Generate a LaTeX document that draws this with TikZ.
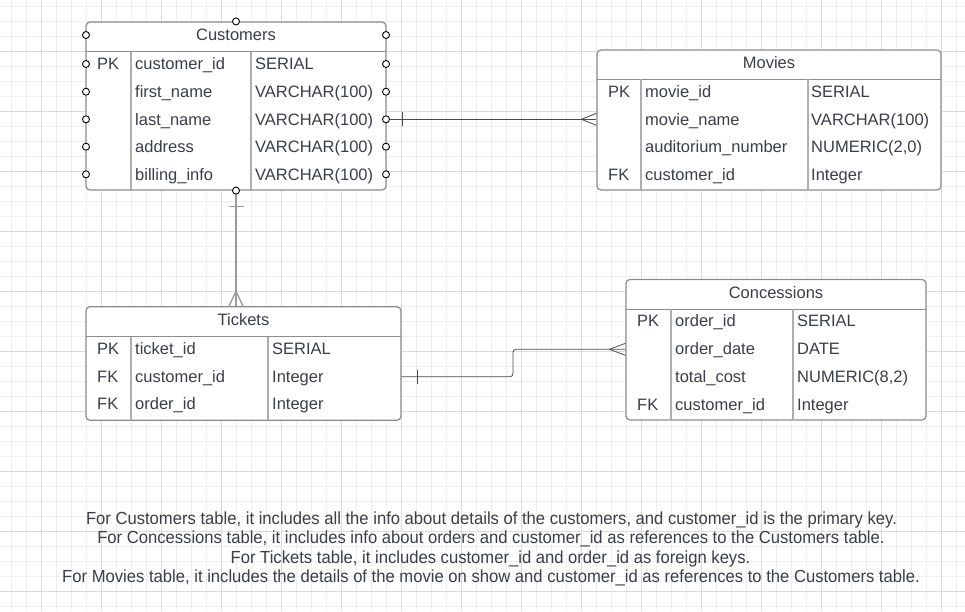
\documentclass[tikz,border=0pt]{standalone}
\usepackage{fontspec}
\setmainfont{Liberation Sans}
\newfontfamily\notefont[FakeStretch=0.95]{Liberation Sans}
\usetikzlibrary{calc}
\definecolor{gridminor}{HTML}{EFEFEF}
\definecolor{gridmajor}{HTML}{DCDCDC}
\definecolor{txt}{HTML}{3A3F47}
\definecolor{border}{HTML}{8C8C8C}
\definecolor{sep}{HTML}{AEAEAE}
\definecolor{conn}{HTML}{4A4A4A}
\definecolor{connlight}{HTML}{9A9A9A}
\begin{document}
\begin{tikzpicture}[x=1pt,y=-1pt,
  font=\fontsize{16.5}{19}\selectfont,
  tablebox/.style={draw=border, line width=1.2pt, fill=white, rounded corners=4pt, inner sep=0pt},
  hline/.style={draw=border, line width=1.3pt},
  colline/.style={draw=sep, line width=1.8pt},
  cell/.style={anchor=base west, inner sep=0pt, text=txt},
  title/.style={anchor=base, inner sep=0pt, text=txt},
  note/.style={anchor=base, inner sep=0pt, text=txt, font=\notefont\fontsize{17.5}{19}\selectfont},
  connector/.style={draw=conn, line width=0.8pt},
  connectorlight/.style={draw=connlight, line width=1.3pt},
  dot/.style={draw=black, fill=white, line width=0.9pt}]
\useasboundingbox (0,0) rectangle (965,611);
\fill[white] (0,0) rectangle (965,611);
% grid
\foreach \k in {0,...,63} {\draw[gridminor, line width=0.8pt] (11.7+15*\k,0) -- (11.7+15*\k,611);}
\foreach \k in {0,...,40} {\draw[gridminor, line width=0.8pt] (0,6.7+15*\k) -- (965,6.7+15*\k);}
\foreach \k in {0,...,15} {\draw[gridmajor, line width=0.8pt] (41.7+60*\k,0) -- (41.7+60*\k,611);}
\foreach \k in {0,...,9} {\draw[gridmajor, line width=0.8pt] (0,51.7+60*\k) -- (965,51.7+60*\k);}

% ---------- Customers ----------
\node[tablebox, minimum width=300pt, minimum height=168pt] (cust) at (236,106) {};
\draw[hline] (86,51.7) -- (386,51.7);
\draw[colline] (130.7,51.7) -- (130.7,190);
\draw[colline] (250.7,51.7) -- (250.7,190);
\coordinate (cr1) at (236,64);
\coordinate (cr2) at (236,91.7);
\coordinate (cr3) at (236,119.3);
\coordinate (cr4) at (236,146.7);
\coordinate (cr5) at (236,174.3);
\node[title] (custt) at (236,40.8) {Customers};
\node[cell] (c1k) at (97,69.8) {PK};
\node[cell] (c1n) at (135,69.8) {customer\_id};
\node[cell] (c1t) at (255,69.8) {SERIAL};
\node[cell] (c2n) at (135,97.5) {first\_name};
\node[cell] (c2t) at (255,97.5) {VARCHAR(100)};
\node[cell] (c3n) at (135,125.1) {last\_name};
\node[cell] (c3t) at (255,125.1) {VARCHAR(100)};
\node[cell] (c4n) at (135,152.5) {address};
\node[cell] (c4t) at (255,152.5) {VARCHAR(100)};
\node[cell] (c5n) at (135,180.1) {billing\_info};
\node[cell] (c5t) at (255,180.1) {VARCHAR(100)};

% ---------- Movies ----------
\node[tablebox, minimum width=344pt, minimum height=140pt] (mov) at (769,120) {};
\draw[hline] (597,79.2) -- (941,79.2);
\draw[colline] (641,79.2) -- (641,190);
\draw[colline] (808,79.2) -- (808,190);
\coordinate (mr1) at (769,91.7);
\coordinate (mr2) at (769,119.3);
\node[title] (movt) at (769,68.3) {Movies};
\node[cell] (m1k) at (608,97.5) {PK};
\node[cell] (m1n) at (645,97.5) {movie\_id};
\node[cell] (m1t) at (811,97.5) {SERIAL};
\node[cell] (m2n) at (645,125.3) {movie\_name};
\node[cell] (m2t) at (811,125.3) {VARCHAR(100)};
\node[cell] (m3n) at (645,152.9) {auditorium\_number};
\node[cell] (m3t) at (811,152.9) {NUMERIC(2,0)};
\node[cell] (m4k) at (608,180.6) {FK};
\node[cell] (m4n) at (645,180.6) {customer\_id};
\node[cell] (m4t) at (811,180.6) {Integer};

% ---------- Tickets ----------
\node[tablebox, minimum width=315pt, minimum height=113.5pt] (tix) at (243.5,363.5) {};
\draw[hline] (86,336.7) -- (401,336.7);
\draw[colline] (130.7,336.7) -- (130.7,420);
\draw[colline] (267.7,336.7) -- (267.7,420);
\coordinate (tr1) at (243.5,349);
\coordinate (tr2) at (243.5,376.7);
\node[title] (tixt) at (243.5,325.3) {Tickets};
\node[cell] (t1k) at (97,354.8) {PK};
\node[cell] (t1n) at (135,354.8) {ticket\_id};
\node[cell] (t1t) at (272,354.8) {SERIAL};
\node[cell] (t2k) at (97,382.5) {FK};
\node[cell] (t2n) at (135,382.5) {customer\_id};
\node[cell] (t2t) at (272,382.5) {Integer};
\node[cell] (t3k) at (97,409.8) {FK};
\node[cell] (t3n) at (135,409.8) {order\_id};
\node[cell] (t3t) at (272,409.8) {Integer};

% ---------- Concessions ----------
\node[tablebox, minimum width=300pt, minimum height=140.5pt] (conc) at (776,349.7) {};
\draw[hline] (626,309.3) -- (926,309.3);
\draw[colline] (670.7,309.3) -- (670.7,420);
\draw[colline] (792.8,309.3) -- (792.8,420);
\coordinate (kr2) at (776,349.3);
\node[title] (conct) at (776,298.3) {Concessions};
\node[cell] (k1k) at (637,326.5) {PK};
\node[cell] (k1n) at (675,326.5) {order\_id};
\node[cell] (k1t) at (797,326.5) {SERIAL};
\node[cell] (k2n) at (675,354.8) {order\_date};
\node[cell] (k2t) at (797,354.8) {DATE};
\node[cell] (k3n) at (675,382.5) {total\_cost};
\node[cell] (k3t) at (797,382.5) {NUMERIC(8,2)};
\node[cell] (k4k) at (637,410.1) {FK};
\node[cell] (k4n) at (675,410.1) {customer\_id};
\node[cell] (k4t) at (797,410.1) {Integer};

% ---------- Connectors ----------
% Customers -- Movies
\draw[connector] (cust.east |- cr3) -- (mov.west |- cr3);
\draw[connector] ($(cust.east |- cr3)+(15.5,-7)$) -- ++(0,14);
\draw[connector] ($(mov.west |- cr3)+(-15,0)$) -- ($(mov.west |- cr3)+(0,-6)$);
\draw[connector] ($(mov.west |- cr3)+(-15,0)$) -- ($(mov.west |- cr3)+(0,6)$);
% Customers -- Tickets
\draw[connectorlight] (cust.south) -- (cust.south |- tix.north);
\draw[connectorlight] ($(cust.south)+(-7.5,15.7)$) -- ++(15,0);
\draw[connectorlight] ($(cust.south |- tix.north)+(0,-15)$) -- ($(cust.south |- tix.north)+(-7,0)$);
\draw[connectorlight] ($(cust.south |- tix.north)+(0,-15)$) -- ($(cust.south |- tix.north)+(7,0)$);
% Tickets -- Concessions
\coordinate (bend) at (513,360);
\draw[connector, rounded corners=3pt] (tix.east |- tr2) -- (bend |- tr2) -- (bend |- kr2) -- (conc.west |- kr2);
\draw[connector] ($(tix.east |- tr2)+(15.3,-7)$) -- ++(0,14);
\draw[connector] ($(conc.west |- kr2)+(-16,0)$) -- ($(conc.west |- kr2)+(0,-6)$);
\draw[connector] ($(conc.west |- kr2)+(-16,0)$) -- ($(conc.west |- kr2)+(0,6)$);

% ---------- Customers connection points ----------
\draw[dot] (cust.north) circle (3.5pt);
\draw[dot] (cust.south) circle (3.5pt);
\foreach \yy in {35,64,91.7,119.3,146.7,174.3} {
  \draw[dot] (86,\yy) circle (3.5pt);
  \draw[dot] (386,\yy) circle (3.5pt);
}

% ---------- Notes ----------
\node[note] (n1) at (491.5,524) {For Customers table, it includes all the info about details of the customers, and customer\_id is the primary key.};
\node[note] (n2) at (491,543.5) {For Concessions table, it includes info about orders and customer\_id as references to the Customers table.};
\node[note] (n3) at (490.5,563) {For Tickets table, it includes customer\_id and order\_id as foreign keys.};
\node[note] (n4) at (491,582.5) {For Movies table, it includes the details of the movie on show and customer\_id as references to the Customers table.};
\end{tikzpicture}
\end{document}
